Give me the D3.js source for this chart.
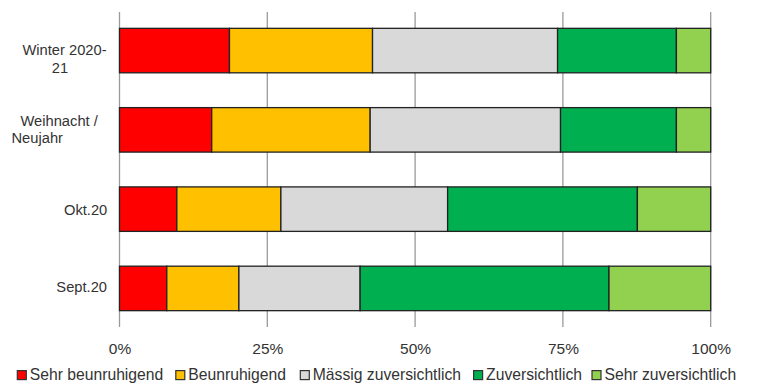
<!DOCTYPE html>
<html>
<head>
<meta charset="utf-8">
<script src="https://cdn.jsdelivr.net/npm/d3@7"></script>
<style>
  html, body { margin: 0; padding: 0; background: #fff; }
  svg { display: block; }
  text { font-family: "Liberation Sans", Arial, sans-serif; fill: #333; }
</style>
</head>
<body>
<svg id="chart" width="757" height="383"></svg>
<script>
// Survey periods (top to bottom) and their wrapped axis labels
const categories = ["Winter 2020-21", "Weihnacht / Neujahr", "Okt.20", "Sept.20"];
const categoryLines = [["Winter 2020-", "21"], ["Weihnacht /", "Neujahr"], ["Okt.20"], ["Sept.20"]];

// Answer options, in stacking order
const seriesNames = ["Sehr beunruhigend", "Beunruhigend", "Mässig zuversichtlich", "Zuversichtlich", "Sehr zuversichtlich"];
const seriesColors = ["#FF0000", "#FFC000", "#D9D9D9", "#00B050", "#92D050"];

// Shares in percent, one array per answer option (same order as categories)
const sehrBeunruhigend    = [18.6, 15.6,  9.7,  8.0];
const beunruhigend        = [24.2, 26.8, 17.6, 12.2];
const maessigZuversichtl  = [31.3, 32.2, 28.2, 20.5];
const zuversichtlich      = [20.1, 19.6, 32.1, 42.1];
const sehrZuversichtlich  = [ 5.8,  5.8, 12.4, 17.2];

const tickValues = [0, 25, 50, 75, 100];
const tickLabels = ["0%", "25%", "50%", "75%", "100%"];

// Build a row table for d3.stack
const seriesValues = [sehrBeunruhigend, beunruhigend, maessigZuversichtl, zuversichtlich, sehrZuversichtlich];
const rows = categories.map((c, i) => {
  const r = { category: c };
  seriesNames.forEach((s, j) => { r[s] = seriesValues[j][i]; });
  return r;
});
const stacked = d3.stack().keys(seriesNames)(rows);

const svg = d3.select("#chart");

const x = d3.scaleLinear().domain([0, 100]).range([119.5, 710.7]);
const y = d3.scaleBand().domain(categories).range([12, 327]).paddingInner(0.439).paddingOuter(0.206);
const color = d3.scaleOrdinal().domain(seriesNames).range(seriesColors);

// Vertical gridlines (including the 0% axis line)
svg.append("g")
  .selectAll("line")
  .data(tickValues)
  .join("line")
  .attr("x1", d => x(d)).attr("x2", d => x(d))
  .attr("y1", 12).attr("y2", 327)
  .attr("stroke", "#9a9a9a")
  .attr("stroke-width", 1.3);

// Stacked bars
svg.append("g")
  .selectAll("g")
  .data(stacked)
  .join("g")
  .attr("fill", d => color(d.key))
  .selectAll("rect")
  .data(d => d)
  .join("rect")
  .attr("x", d => x(d[0]))
  .attr("y", d => y(d.data.category))
  .attr("width", d => x(d[1]) - x(d[0]))
  .attr("height", y.bandwidth())
  .attr("stroke", "#222")
  .attr("stroke-width", 1.3);

// X axis tick labels
const xAxis = d3.axisBottom(x)
  .tickValues(tickValues)
  .tickFormat((d, i) => tickLabels[i])
  .tickSize(0)
  .tickPadding(0);
const gx = svg.append("g").attr("transform", "translate(0,341)").call(xAxis);
gx.select(".domain").remove();
gx.selectAll("text")
  .attr("dy", null)
  .attr("y", 13)
  .style("font-size", "15.5px")
  .style("font-family", "'Liberation Sans', Arial, sans-serif")
  .attr("fill", "#333");

// Category labels: per-line anchor, x and baseline offset from the band centre
const labelLayout = [
  [{ anchor: "middle", x: 64.5, dy: 4.5 }, { anchor: "middle", x: 60, dy: 22.8 }],
  [{ anchor: "start", x: 20.5, dy: -3.9 }, { anchor: "start", x: 11.5, dy: 12.8 }],
  [{ anchor: "end", x: 107.3, dy: 6 }],
  [{ anchor: "end", x: 107, dy: 3.4 }]
];
const gy = svg.append("g");
categories.forEach((c, i) => {
  const cy = y(c) + y.bandwidth() / 2;
  categoryLines[i].forEach((line, k) => {
    const L = labelLayout[i][k];
    gy.append("text")
      .attr("x", L.x)
      .attr("y", cy + L.dy)
      .attr("text-anchor", L.anchor)
      .style("font-size", "14.7px")
      .text(line);
  });
});

// Legend along the bottom edge
const legendX = [17.3, 175.8, 300.3, 473.6, 592];
const legend = svg.append("g");
seriesNames.forEach((s, i) => {
  const g = legend.append("g").attr("transform", `translate(${legendX[i]},0)`);
  g.append("rect")
    .attr("x", 0).attr("y", 370.6)
    .attr("width", 9).attr("height", 9)
    .attr("fill", color(s))
    .attr("stroke", "#333")
    .attr("stroke-width", 1.2);
  g.append("text")
    .attr("x", 12.5)
    .attr("y", 379.5)
    .style("font-size", "15.7px")
    .text(s);
});
</script>
</body>
</html>
